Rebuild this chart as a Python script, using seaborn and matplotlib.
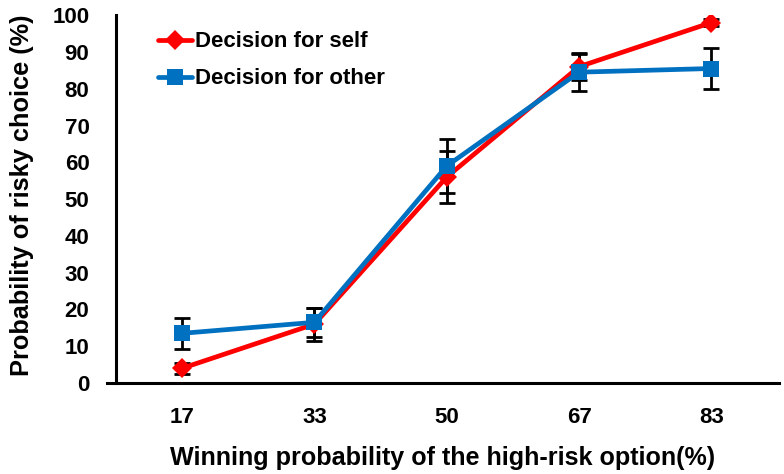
import numpy as np
import pandas as pd
import matplotlib.pyplot as plt
import seaborn as sns

categories = ["17", "33", "50", "67", "83"]
self_vals = [4.0, 16.0, 56.0, 86.0, 98.0]
self_err = [1.5, 4.5, 7.0, 3.5, 1.0]
other_vals = [13.5, 16.5, 59.0, 84.5, 85.5]
other_err = [4.2, 4.0, 7.4, 5.2, 5.7]
series_names = ["Decision for self", "Decision for other"]


def main():
    sns.set_style("white")
    plt.rcParams["font.family"] = ["Liberation Sans", "DejaVu Sans"]
    plt.rcParams["font.weight"] = "bold"
    for key in ["text.color", "axes.labelcolor", "xtick.color", "ytick.color"]:
        plt.rcParams[key] = "black"

    df = pd.DataFrame({
        "pos": list(range(len(categories))) * 2,
        "value": self_vals + other_vals,
        "err": self_err + other_err,
        "series": [series_names[0]] * 5 + [series_names[1]] * 5,
    })

    fig, ax = plt.subplots(figsize=(7.84, 4.74), dpi=100)
    colors = {series_names[0]: "#ff0000", series_names[1]: "#0070c0"}
    markers = {series_names[0]: "D", series_names[1]: "s"}

    for name in series_names:
        sub = df[df["series"] == name]
        ax.errorbar(sub["pos"], sub["value"], yerr=sub["err"], fmt="none",
                    ecolor="black", elinewidth=2, capsize=5.5, capthick=2, zorder=2)

    sns.lineplot(data=df, x="pos", y="value", hue="series", style="series",
                 palette=colors, markers=markers, dashes=False, linewidth=3.4,
                 markersize=11, markeredgewidth=0, ax=ax, zorder=3)
    for ln in ax.get_lines():
        if ln.get_marker() == "s":
            ln.set_markersize(11.5)
        elif ln.get_marker() == "D":
            ln.set_markersize(10)

    ax.set_xlim(-0.567, 4.51)
    ax.set_ylim(0, 100)
    ax.spines["left"].set_position(("data", -0.5))
    ax.set_xticks(range(len(categories)))
    ax.set_xticklabels(categories, fontsize=16, fontweight="bold")
    ax.set_yticks(range(0, 101, 10))
    ax.tick_params(axis="x", direction="in", length=6, width=2, pad=17)
    ax.tick_params(axis="y", direction="out", length=8, width=2, pad=11, labelsize=16)
    for lab in ax.get_yticklabels():
        lab.set_fontweight("bold")

    sns.despine(ax=ax)
    for side in ["left", "bottom"]:
        ax.spines[side].set_linewidth(2.2)
        ax.spines[side].set_color("black")

    ax.set_xlabel("Winning probability of the high-risk option(%)", fontsize=18.1,
                  fontweight="bold", labelpad=13)
    ax.set_ylabel("Probability of risky choice (%)", fontsize=18.3,
                  fontweight="bold")
    ax.yaxis.set_label_coords(-0.108, 0.51)

    leg = ax.legend(loc="upper left", bbox_to_anchor=(0.046, 1.01), frameon=False,
                    fontsize=16, handlelength=1.55, handletextpad=0.1,
                    labelspacing=0.72)
    for t in leg.get_texts():
        t.set_fontweight("bold")
        t.set_color("black")

    fig.subplots_adjust(left=0.1365, right=0.9936, top=0.968, bottom=0.192)
    fig.savefig("out.png", dpi=100)
    plt.close(fig)


if __name__ == "__main__":
    main()
